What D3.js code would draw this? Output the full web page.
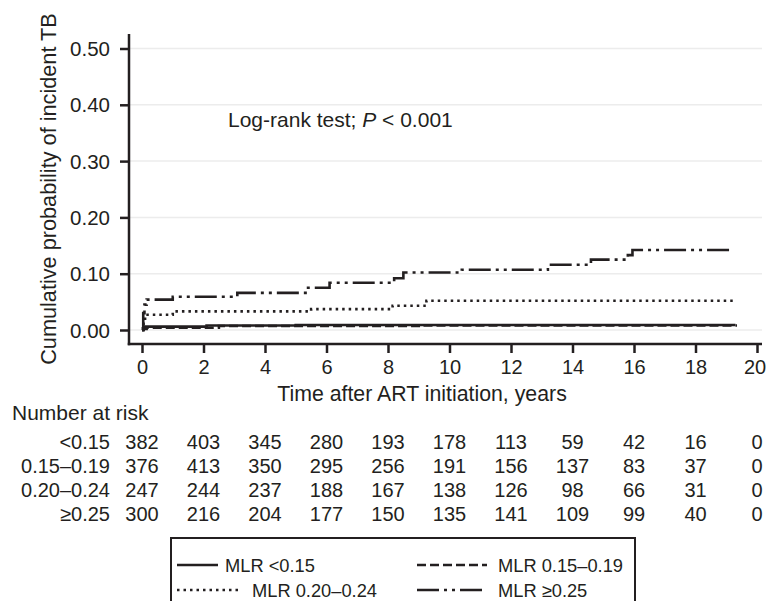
<!DOCTYPE html>
<html>
<head>
<meta charset="utf-8">
<script src="https://cdn.jsdelivr.net/npm/d3@7"></script>
<style>
  body { margin: 0; background: #fff; }
  svg text { font-family: "Liberation Sans", Arial, sans-serif; fill: #231f20; }
</style>
</head>
<body>
<svg id="chart" width="767" height="601"></svg>
<script>
// Data
const xTicks = [0, 2, 4, 6, 8, 10, 12, 14, 16, 18, 20];
const yTicks = [0, 0.1, 0.2, 0.3, 0.4, 0.5];

const groupLabels = ['<0.15', '0.15\u20130.19', '0.20\u20130.24', '\u22650.25'];
const legendLabels = ['MLR <0.15', 'MLR 0.15\u20130.19', 'MLR 0.20\u20130.24', 'MLR \u22650.25'];

const atRisk015 = [382, 403, 345, 280, 193, 178, 113, 59, 42, 16, 0];
const atRisk019 = [376, 413, 350, 295, 256, 191, 156, 137, 83, 37, 0];
const atRisk024 = [247, 244, 237, 188, 167, 138, 126, 98, 66, 31, 0];
const atRisk025 = [300, 216, 204, 177, 150, 135, 141, 109, 99, 40, 0];

// step curves: [time, cumulative probability]
const curve015 = [[0, 0], [0.03, 0.003], [0.1, 0.006], [2.1, 0.008], [5, 0.009], [19.3, 0.009]];
const curve019 = [[0, 0], [0.04, 0.002], [0.15, 0.004], [2.5, 0.007], [9, 0.008], [19.35, 0.008]];
const curve024 = [[0, 0], [0.05, 0.02], [0.1, 0.027], [1.0, 0.033], [5.5, 0.037], [8.15, 0.043], [9.25, 0.052], [19.3, 0.052]];
const curve025 = [[0, 0], [0.04, 0.03], [0.08, 0.045], [0.15, 0.054], [1.0, 0.059], [3.1, 0.066], [5.4, 0.075], [6.1, 0.084], [8.2, 0.092], [8.5, 0.102], [10.4, 0.107], [13.2, 0.116], [14.6, 0.125], [15.8, 0.133], [15.95, 0.142], [19.25, 0.142]];

const ink = '#231f20';

const svg = d3.select('#chart');

const x = d3.scaleLinear().domain([0, 20]).range([142, 757]);
const y = d3.scaleLinear().domain([0, 0.5]).range([330, 48.5]);

const axisLeftX = 129;
const axisBottomY = 344;

// Grid lines
svg.append('g')
    .selectAll('line')
    .data(yTicks)
    .enter()
    .append('line')
    .attr('x1', axisLeftX)
    .attr('x2', 762)
    .attr('y1', d => y(d))
    .attr('y2', d => y(d))
    .style('stroke', '#ececec')
    .style('stroke-width', 1.5);

// Y axis
const yAxis = svg.append('g')
    .attr('transform', `translate(${axisLeftX},0)`)
    .call(d3.axisLeft(y).tickValues(yTicks).tickFormat(d3.format('.2f')).tickSize(9).tickPadding(10));
yAxis.select('.domain').remove();
yAxis.selectAll('line').style('stroke', ink).style('stroke-width', 2.5);
yAxis.selectAll('text').style('font-size', '20.5px').attr('dy', '0.35em');
svg.append('line')
    .attr('x1', axisLeftX).attr('x2', axisLeftX)
    .attr('y1', 34).attr('y2', axisBottomY + 1.25)
    .style('stroke', ink).style('stroke-width', 2.5);

// X axis
const xAxis = svg.append('g')
    .attr('transform', `translate(0,${axisBottomY})`)
    .call(d3.axisBottom(x).tickValues(xTicks).tickSize(9).tickPadding(4));
xAxis.select('.domain').remove();
xAxis.selectAll('line').style('stroke', ink).style('stroke-width', 2.5);
xAxis.selectAll('text')
    .style('font-size', '20px')
    .attr('dy', '0.85em')
    .attr('dx', d => d === 20 ? -2.5 : 0);
svg.append('line')
    .attr('x1', axisLeftX - 1.25).attr('x2', 762)
    .attr('y1', axisBottomY).attr('y2', axisBottomY)
    .style('stroke', ink).style('stroke-width', 2.5);

// Axis titles
svg.append('text')
    .attr('transform', 'translate(56,189) rotate(-90)')
    .attr('text-anchor', 'middle')
    .style('font-size', '21.7px')
    .text('Cumulative probability of incident TB');

svg.append('text')
    .attr('x', 422)
    .attr('y', 401)
    .attr('text-anchor', 'middle')
    .style('font-size', '21.3px')
    .text('Time after ART initiation, years');

// Annotation
const note = svg.append('text')
    .attr('x', 228)
    .attr('y', 127)
    .style('font-size', '21px');
note.append('tspan').text('Log-rank test; ');
note.append('tspan').style('font-style', 'italic').text('P');
note.append('tspan').text(' < 0.001');

// Curves
const series = [
    {data: curve015, dash: null},
    {data: curve019, dash: '9,4'},
    {data: curve024, dash: '2.5,4'},
    {data: curve025, dash: '22,5,3,5,3,5'},
];

const line = d3.line()
    .x(d => x(d[0]))
    .y(d => y(d[1]))
    .curve(d3.curveStepAfter);

const lines = svg.append('g').attr('class', 'lines');
series.forEach(s => {
    lines.append('path')
        .datum(s.data)
        .attr('d', line)
        .style('fill', 'none')
        .style('stroke', ink)
        .style('stroke-width', 2.6)
        .style('stroke-dasharray', s.dash);
});

// Number at risk table
svg.append('text')
    .attr('x', 12)
    .attr('y', 420)
    .style('font-size', '21px')
    .text('Number at risk');

const riskRows = [atRisk015, atRisk019, atRisk024, atRisk025];
const rowY = d3.scalePoint().domain(d3.range(riskRows.length)).range([449, 521]);

riskRows.forEach((row, i) => {
    svg.append('text')
        .attr('x', 110)
        .attr('y', rowY(i))
        .attr('text-anchor', 'end')
        .style('font-size', '20px')
        .text(groupLabels[i]);
    svg.append('g')
        .selectAll('text')
        .data(row)
        .enter()
        .append('text')
        .attr('x', (d, j) => x(xTicks[j]))
        .attr('y', rowY(i))
        .attr('text-anchor', 'middle')
        .style('font-size', '20px')
        .text(d => d);
});

// Legend
svg.append('rect')
    .attr('x', 171)
    .attr('y', 538)
    .attr('width', 464)
    .attr('height', 80)
    .style('fill', 'none')
    .style('stroke', ink)
    .style('stroke-width', 2);

const legendItems = [
    {x1: 177, x2: 218, tx: 225, y: 565},
    {x1: 417, x2: 487, tx: 498, y: 565},
    {x1: 177, x2: 240, tx: 252, y: 590},
    {x1: 417, x2: 486, tx: 498, y: 590},
];

legendItems.forEach((it, i) => {
    svg.append('line')
        .attr('x1', it.x1).attr('x2', it.x2)
        .attr('y1', it.y).attr('y2', it.y)
        .style('stroke', ink)
        .style('stroke-width', 2.6)
        .style('stroke-dasharray', series[i].dash);
    svg.append('text')
        .attr('x', it.tx)
        .attr('y', it.y + 7)
        .style('font-size', '18.3px')
        .text(legendLabels[i]);
});
</script>
</body>
</html>
